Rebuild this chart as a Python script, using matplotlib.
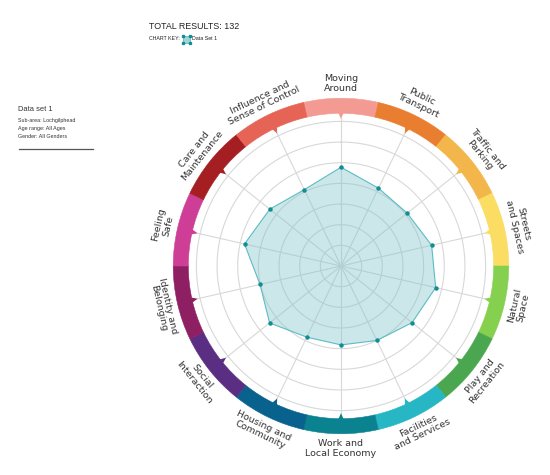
import numpy as np
import matplotlib
matplotlib.use("Agg")
import matplotlib.pyplot as plt
from matplotlib.patches import Rectangle
from matplotlib.lines import Line2D

categories = ["Moving\nAround", "Public\nTransport", "Traffic and\nParking", "Streets\nand Spaces",
              "Natural\nSpace", "Play and\nRecreation", "Facilities\nand Services",
              "Work and\nLocal Economy", "Housing and\nCommunity", "Social\nInteraction",
              "Identity and\nBelonging", "Feeling\nSafe", "Care and\nMaintenance",
              "Influence and\nSense of Control"]
values = [4.78, 4.18, 4.10, 4.50, 4.70, 4.40, 4.00, 3.82, 3.82, 4.42, 4.02, 4.79, 4.41, 4.10]
seg_colors = ["#f39a93", "#e97d30", "#f2b64a", "#fadd62", "#86d04f", "#4ba74f", "#27b6c4",
              "#0a8290", "#08628d", "#5a2e82", "#8e1f62", "#cf3e96", "#a51e22", "#e66455"]
rings = [1, 2, 3, 4, 5, 6, 7]

W, H = 550, 475
fig = plt.figure(figsize=(5.5, 4.75), dpi=100)
cx, cy = 341, H - 266
unit = 20.66
rmax = 9.5
R = rmax * unit
ax = fig.add_axes([(cx - R) / W, (cy - R) / H, 2 * R / W, 2 * R / H], projection="polar")
ax.set_theta_zero_location("N")
ax.set_theta_direction(-1)
ax.set_ylim(0, rmax)
ax.set_axis_off()

n = len(categories)
thetas = np.arange(n) * 2 * np.pi / n
step = 2 * np.pi / n

grid_col = "#d8d8d8"
tt = np.linspace(0, 2 * np.pi, 400)
for r in rings:
    ax.plot(tt, np.full_like(tt, r), color=grid_col, lw=0.8, zorder=1)
for t in thetas:
    ax.plot([t, t], [0, 7.15], color=grid_col, lw=0.8, zorder=1)

# outer coloured band
band_in, band_out = 7.39, 8.12
ax.bar(thetas, band_out - band_in, width=step, bottom=band_in, color=seg_colors,
       edgecolor=seg_colors, linewidth=0.4, align="center", zorder=3)
# notches
hw = 0.017
for t, c in zip(thetas, seg_colors):
    ax.fill([t - hw, t, t + hw], [band_in + 0.02, 7.12, band_in + 0.02], color=c, lw=0, zorder=3)

# data polygon
tv = np.append(thetas, thetas[0])
vv = np.append(values, values[0])
ax.fill(tv, vv, color="#80c4ca", alpha=0.4, zorder=4, lw=0)
ax.plot(tv, vv, color="#5bbcc3", lw=0.8, zorder=5)
ax.plot(thetas, values, "o", color="#138c93", ms=2.2, zorder=6)

# labels
for t, lab in zip(thetas, categories):
    a = 90 - np.degrees(t)
    if np.sin(np.radians(a)) >= 0:
        rot = a - 90
    else:
        rot = a + 90
    ax.text(t, 8.83, lab, rotation=rot, rotation_mode="anchor", ha="center", va="center",
            multialignment="center", fontsize=6.8, color="#333333", family="DejaVu Sans",
            linespacing=1.08, clip_on=False, zorder=7)

# header texts
ff = "Liberation Sans"
fig.text(149 / W, 1 - 26.5 / H, "TOTAL RESULTS: 132", fontsize=6.4, family=ff,
         color="#222222", ha="left", va="center")
fig.text(149 / W, 1 - 39 / H, "CHART KEY:", fontsize=3.8, family=ff, color="#222222",
         ha="left", va="center")
fig.add_artist(Rectangle((182.5 / W, 1 - 42.5 / H), 7 / W, 7 / H, transform=fig.transFigure,
                         facecolor="#9fd3d7", edgecolor="#5bbcc3", lw=0.6))
for dx in (182.5, 189.5):
    for dy in (35.5, 42.5):
        fig.add_artist(Line2D([dx / W], [1 - dy / H], marker="s", ms=1.4, color="#138c93",
                              lw=0, transform=fig.transFigure))
fig.text(192.5 / W, 1 - 39 / H, "Data Set 1", fontsize=3.8, family=ff, color="#222222",
         ha="left", va="center")

fig.text(18.5 / W, 1 - 109.3 / H, "Data set 1", fontsize=5.4, family=ff, color="#333333",
         ha="left", va="center")
for y, s in zip([120.7, 128.3, 136.0], ["Sub-area: Lochgilphead", "Age range: All Ages",
                                        "Gender: All Genders"]):
    fig.text(18.5 / W, 1 - y / H, s, fontsize=3.9, family=ff, color="#333333",
             ha="left", va="center")
fig.add_artist(Line2D([18.5 / W, 93 / W], [1 - 149 / H, 1 - 149 / H], color="#555555",
                      lw=0.9, transform=fig.transFigure))

fig.savefig("out.png", dpi=100, facecolor="white")
